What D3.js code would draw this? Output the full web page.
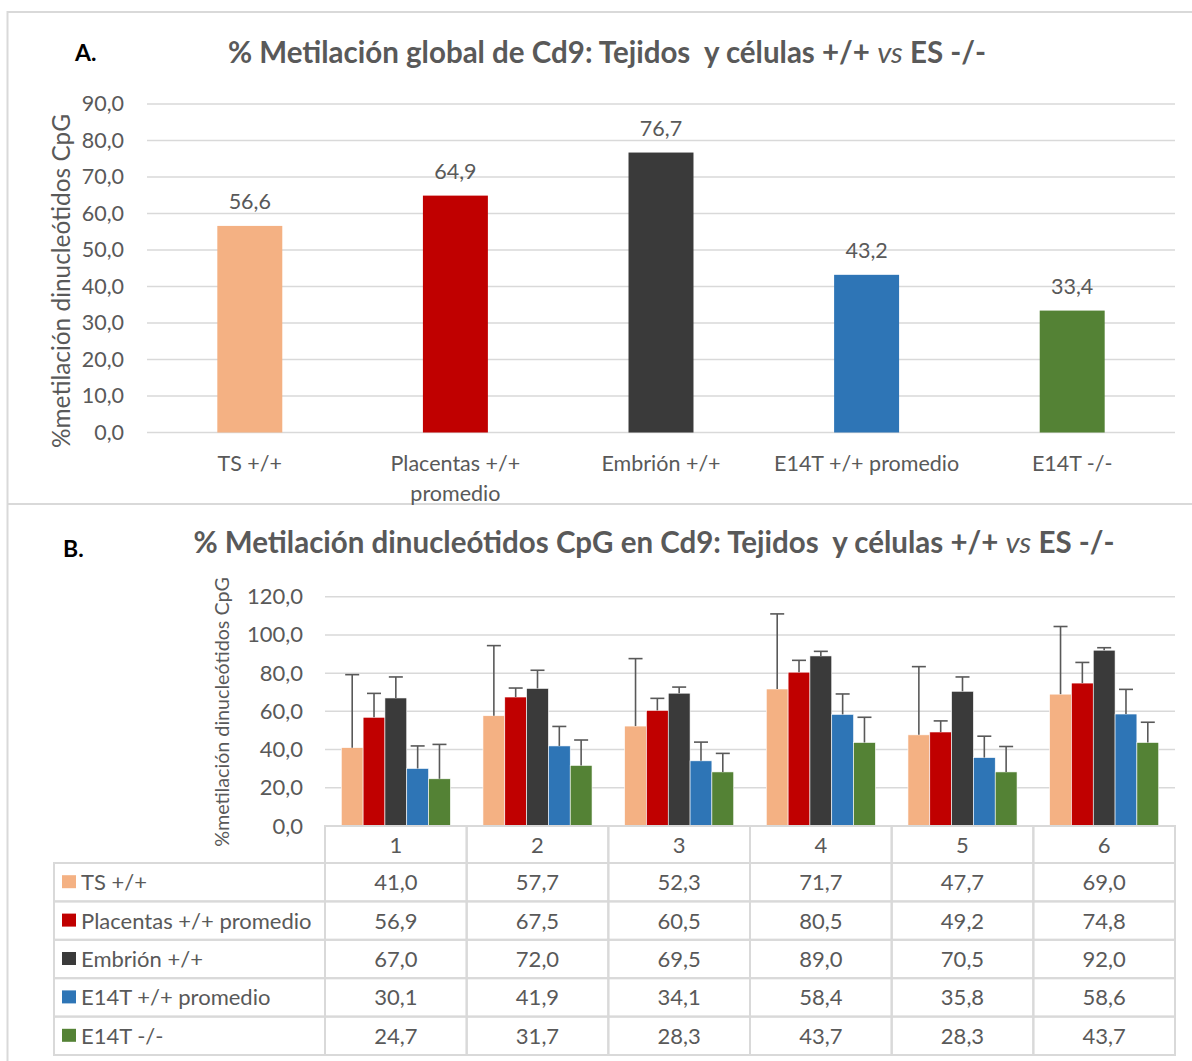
<!DOCTYPE html>
<html><head><meta charset="utf-8">
<script src="https://cdn.jsdelivr.net/npm/d3@7"></script>
<style>
body{margin:0;background:#fff;}
svg text{font-family:Lato,"Open Sans",sans-serif;fill:#595959;}
</style></head>
<body><svg id="c" width="1192" height="1061"></svg>
<script>
// ---------- data ----------
const seriesNames = ["TS +/+", "Placentas +/+ promedio", "Embrión +/+", "E14T +/+ promedio", "E14T -/-"];
const seriesColors = ["#F4B183", "#C00000", "#3A3A3A", "#2E75B6", "#548235"];
const axisLabelsA = [["TS +/+"], ["Placentas +/+", "promedio"], ["Embrión +/+"], ["E14T +/+ promedio"], ["E14T -/-"]];
const valuesA = [56.6, 64.9, 76.7, 43.2, 33.4];
const ticksA = [0, 10, 20, 30, 40, 50, 60, 70, 80, 90];

const groupsB = ["1", "2", "3", "4", "5", "6"];
const valuesTS   = [41.0, 57.7, 52.3, 71.7, 47.7, 69.0];
const valuesPlac = [56.9, 67.5, 60.5, 80.5, 49.2, 74.8];
const valuesEmb  = [67.0, 72.0, 69.5, 89.0, 70.5, 92.0];
const valuesE14p = [30.1, 41.9, 34.1, 58.4, 35.8, 58.6];
const valuesE14k = [24.7, 31.7, 28.3, 43.7, 28.3, 43.7];
const errTS   = [38.2, 36.7, 35.3, 39.3, 35.7, 35.4];
const errPlac = [12.5, 4.7, 6.3, 6.2, 5.8, 10.8];
const errEmb  = [11.0, 9.5, 3.2, 2.4, 7.5, 1.3];
const errE14p = [11.8, 10.2, 9.8, 10.7, 11.2, 12.9];
const errE14k = [18.0, 13.3, 9.7, 13.2, 13.3, 10.6];
const ticksB = [0, 20, 40, 60, 80, 100, 120];

const seriesB = [valuesTS, valuesPlac, valuesEmb, valuesE14p, valuesE14k];
const errorsB = [errTS, errPlac, errEmb, errE14p, errE14k];

// ---------- helpers ----------
const loc = d3.formatLocale({decimal: ",", thousands: ".", grouping: [3], currency: ["", "€"]});
const f1 = loc.format(".1f");
const svg = d3.select("#c");
const grid = "#D9D9D9";
const fs = 21.5;

// outer frame & divider
svg.append("path").attr("d", "M1200,12 H7.5 V1070").attr("fill", "none").attr("stroke", grid).attr("stroke-width", 2);
svg.append("line").attr("x1", 7).attr("x2", 1200).attr("y1", 504).attr("y2", 504).attr("stroke", grid).attr("stroke-width", 2);

function title(x, y, pre) {
  const t = svg.append("text").attr("x", x).attr("y", y).attr("text-anchor", "middle")
    .attr("font-size", 29.5).attr("font-weight", "bold");
  t.append("tspan").text(pre);
  t.append("tspan").attr("font-style", "italic").attr("font-weight", "normal").text("vs");
  t.append("tspan").text(" ES -/-");
}

// ---------- Panel A ----------
svg.append("text").attr("x", 75).attr("y", 61).attr("font-size", 23).attr("font-weight", "bold").style("fill", "#000").text("A.");
title(607, 63, "% Metilación global de Cd9: Tejidos\u00a0 y células +/+ ");

const yA = d3.scaleLinear().domain([0, 90]).range([432.5, 104]);
const xA = d3.scaleBand().domain(seriesNames).range([147, 1175]).paddingInner(0.684).paddingOuter(0.342);

svg.append("g").selectAll("line").data(ticksA).join("line")
  .attr("x1", 147).attr("x2", 1175).attr("y1", d => yA(d)).attr("y2", d => yA(d))
  .attr("stroke", grid).attr("stroke-width", 1.5);

const axA = svg.append("g").attr("transform", "translate(124,0)")
  .call(d3.axisLeft(yA).tickValues(ticksA).tickSize(0).tickPadding(0).tickFormat(f1));
axA.select(".domain").remove();
axA.selectAll("text").attr("font-size", fs).style("fill", "#595959").style("font-family", "Lato,sans-serif");

svg.append("g").selectAll("rect").data(valuesA).join("rect")
  .attr("x", (d, i) => xA(seriesNames[i])).attr("width", xA.bandwidth())
  .attr("y", d => yA(d)).attr("height", d => yA(0) - yA(d))
  .attr("fill", (d, i) => seriesColors[i]);

svg.append("g").selectAll("text").data(valuesA).join("text")
  .attr("x", (d, i) => xA(seriesNames[i]) + xA.bandwidth() / 2).attr("y", d => yA(d) - 17)
  .attr("text-anchor", "middle").attr("font-size", fs).text(d => f1(d));

const catA = svg.append("g").selectAll("text").data(axisLabelsA).join("text")
  .attr("x", (d, i) => xA(seriesNames[i]) + xA.bandwidth() / 2).attr("y", 471)
  .attr("text-anchor", "middle").attr("font-size", fs);
catA.selectAll("tspan").data(d => d).join("tspan")
  .attr("x", function () { return this.parentNode.getAttribute("x"); })
  .attr("dy", (d, i) => i === 0 ? 0 : 30).text(d => d);

svg.append("text").attr("transform", "translate(70,281) rotate(-90)").attr("text-anchor", "middle")
  .attr("font-size", 24.4).text("%metilación dinucleótidos CpG");

// ---------- Panel B ----------
svg.append("text").attr("x", 63).attr("y", 557).attr("font-size", 23).attr("font-weight", "bold").style("fill", "#000").text("B.");
title(654, 553, "% Metilación dinucleótidos CpG en Cd9: Tejidos\u00a0 y células +/+ ");

const yB = d3.scaleLinear().domain([0, 120]).range([826, 596.7]);
const x0 = d3.scaleBand().domain(groupsB).range([325, 1175]).paddingInner(0.23).paddingOuter(0.115);
const x1 = d3.scaleBand().domain(d3.range(seriesB.length)).range([0, x0.bandwidth()]);

svg.append("g").selectAll("line").data(ticksB).join("line")
  .attr("x1", 325).attr("x2", 1175).attr("y1", d => yB(d)).attr("y2", d => yB(d))
  .attr("stroke", grid).attr("stroke-width", 1.5);

const axB = svg.append("g").attr("transform", "translate(303,0)")
  .call(d3.axisLeft(yB).tickValues(ticksB).tickSize(0).tickPadding(0).tickFormat(f1));
axB.select(".domain").remove();
axB.selectAll("text").attr("font-size", 22).style("fill", "#595959").style("font-family", "Lato,sans-serif");

svg.append("text").attr("transform", "translate(229,712) rotate(-90)").attr("text-anchor", "middle")
  .attr("font-size", 19.7).text("%metilación dinucleótidos CpG");

seriesB.forEach((vals, s) => {
  const g = svg.append("g");
  g.selectAll("rect").data(vals).join("rect")
    .attr("x", (d, i) => x0(groupsB[i]) + x1(s)).attr("width", x1.bandwidth())
    .attr("y", d => yB(d)).attr("height", d => yB(0) - yB(d))
    .attr("fill", seriesColors[s]).attr("stroke", "#fff").attr("stroke-width", 0.6);
});
seriesB.forEach((vals, s) => {
  const g = svg.append("g").attr("stroke", "#595959").attr("stroke-width", 1.6);
  vals.forEach((v, i) => {
    const cx = x0(groupsB[i]) + x1(s) + x1.bandwidth() / 2;
    const top = yB(v + errorsB[s][i]);
    g.append("line").attr("x1", cx).attr("x2", cx).attr("y1", yB(v)).attr("y2", top);
    g.append("line").attr("x1", cx - 7).attr("x2", cx + 7).attr("y1", top).attr("y2", top);
  });
});

// data table
const rowTop = 863, rowH = 38.4, headTop = 826;
const tb = svg.append("g").attr("stroke", grid).attr("stroke-width", 2).attr("fill", "none");
groupsB.forEach((g, i) => {
  tb.append("rect").attr("x", x0.step() * i + 325).attr("y", headTop).attr("width", x0.step()).attr("height", rowTop - headTop);
});
seriesNames.forEach((n, r) => {
  tb.append("rect").attr("x", 54).attr("y", rowTop + r * rowH).attr("width", 325 - 54).attr("height", rowH);
  groupsB.forEach((g, i) => {
    tb.append("rect").attr("x", x0.step() * i + 325).attr("y", rowTop + r * rowH).attr("width", x0.step()).attr("height", rowH);
  });
});
svg.append("g").selectAll("text").data(groupsB).join("text")
  .attr("x", d => x0(d) + x0.bandwidth() / 2).attr("y", headTop + (rowTop - headTop) / 2 + 8)
  .attr("text-anchor", "middle").attr("font-size", 22).text(d => d);
seriesNames.forEach((n, r) => {
  const cy = rowTop + r * rowH + rowH / 2;
  svg.append("rect").attr("x", 62).attr("y", cy - 7).attr("width", 14).attr("height", 13).attr("fill", seriesColors[r]);
  svg.append("text").attr("x", 81).attr("y", cy + 8).attr("font-size", 22).text(n);
  svg.append("g").selectAll("text").data(seriesB[r]).join("text")
    .attr("x", (d, i) => x0(groupsB[i]) + x0.bandwidth() / 2).attr("y", cy + 8)
    .attr("text-anchor", "middle").attr("font-size", 22).text(d => f1(d));
});
</script></body></html>
